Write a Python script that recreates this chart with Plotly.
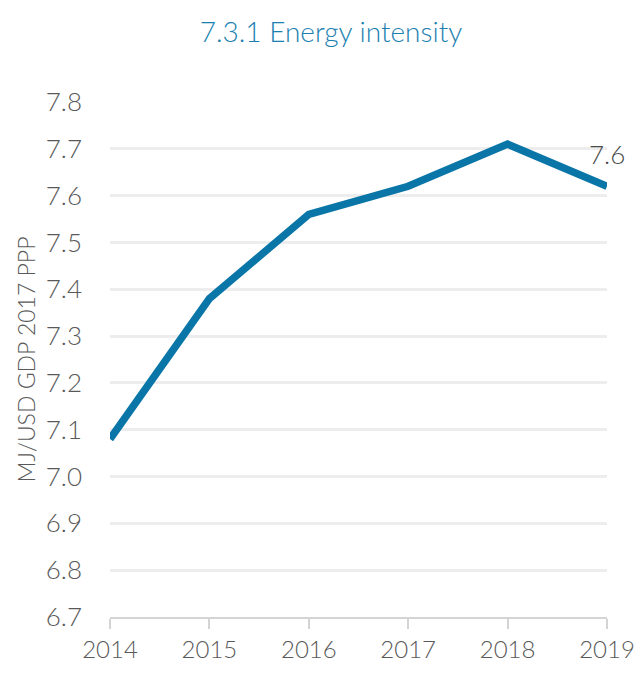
import plotly.graph_objects as go

years = [2014, 2015, 2016, 2017, 2018, 2019]
values = [7.08, 7.38, 7.56, 7.62, 7.71, 7.62]
end_label = "7.6"
y_ticks = [6.7, 6.8, 6.9, 7.0, 7.1, 7.2, 7.3, 7.4, 7.5, 7.6, 7.7, 7.8]

FONT = "Lato"
W, H = 635, 657  # page body adds an 8px offset

fig = go.Figure()
fig.add_trace(go.Scatter(
    x=years, y=values, mode="lines",
    line=dict(color="#0a76a8", width=7.5),
    cliponaxis=False, hoverinfo="skip", showlegend=False,
))
fig.add_annotation(
    x=years[-1], y=values[-1], xref="x", yref="y", text=end_label,
    showarrow=False, yshift=32, xanchor="center", yanchor="middle",
    font=dict(family=FONT, size=26, color="#4a4a4a", weight=300),
)

fig.update_layout(
    width=W, height=H,
    margin=dict(l=102, r=36, t=94, b=48, autoexpand=False),
    paper_bgcolor="white", plot_bgcolor="white",
    title=dict(text="7.3.1 Energy intensity", x=323 / W, xanchor="center",
               y=1 - 24 / H, yanchor="middle",
               font=dict(family=FONT, size=28, color="#1b7fb0", weight=300)),
    xaxis=dict(
        range=[2014, 2019], tickvals=years, ticktext=[str(y) for y in years],
        showgrid=False, showline=True, linecolor="#d4d4d4", linewidth=2,
        ticks="outside", ticklen=10, tickcolor="#d4d4d4", tickwidth=2,
        ticklabeloverflow="allow",
        tickfont=dict(family=FONT, size=24, color="#595959", weight=300),
        zeroline=False,
    ),
    yaxis=dict(
        range=[6.7, 7.8], tickvals=y_ticks, ticktext=[f"{v:.1f}" for v in y_ticks],
        showgrid=True, gridcolor="#ededed", gridwidth=3,
        showline=False, zeroline=False, ticks="",
        ticklabelstandoff=27,
        tickfont=dict(family=FONT, size=26, color="#595959", weight=300),
        title=dict(text="MJ/USD GDP 2017 PPP", standoff=3,
                   font=dict(family=FONT, size=23, color="#595959", weight=300)),
    ),
)

fig.write_html("out.html")
